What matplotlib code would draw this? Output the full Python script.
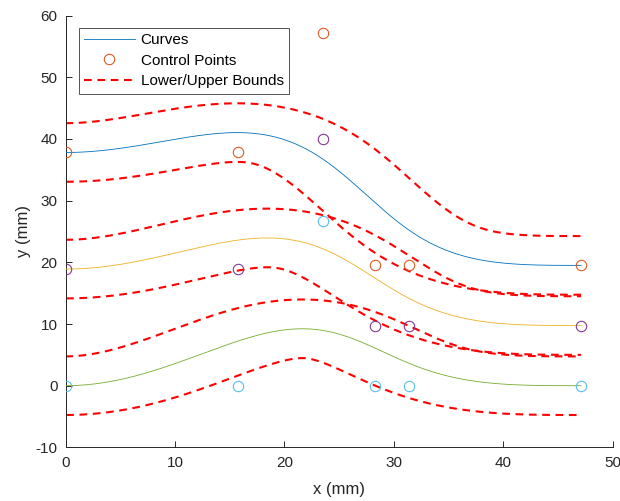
import numpy as np
import matplotlib.pyplot as plt
from matplotlib.bezier import BezierSegment

plt.rcParams['font.family'] = ['Liberation Sans', 'DejaVu Sans']
plt.rcParams['axes.unicode_minus'] = False

# control points (x shared by all three curves)
ctrl_x = [0, 15.71, 23.56, 28.27, 31.42, 47.12]
ctrl_y1 = [37.8, 37.8, 57.2, 19.5, 19.5, 19.5]
ctrl_y2 = [18.9, 18.9, 40.0, 9.75, 9.75, 9.75]
ctrl_y3 = [0, 0, 26.7, 0, 0, 0]
bound_offset = 4.75

curve_colors = ['#0072BD', '#EDB120', '#77AC30']
point_colors = ['#D95319', '#7E2F8E', '#4DBEEE']
dark = '#262626'

fig = plt.figure(figsize=(6.2, 5.01), dpi=100)
ax = fig.add_axes([0.106, 0.107, 0.882, 0.862])

t = np.linspace(0, 1, 400)
for i, cy in enumerate([ctrl_y1, ctrl_y2, ctrl_y3]):
    seg = BezierSegment(np.column_stack([ctrl_x, cy]))
    pts = seg(t)
    dx = np.gradient(pts[:, 0])
    dy = np.gradient(pts[:, 1])
    nrm = np.hypot(dx, dy)
    nx, ny = -dy / nrm, dx / nrm
    ax.plot(pts[:, 0], pts[:, 1], color=curve_colors[i], lw=0.6,
            label='Curves' if i == 0 else None, zorder=3)
    ax.plot(ctrl_x, cy, 'o', mfc='none', mec=point_colors[i], ms=7.5, mew=0.75,
            label='Control Points' if i == 0 else None, zorder=4)
    for s in (-1, 1):
        ax.plot(pts[:, 0] + s * bound_offset * nx, pts[:, 1] + s * bound_offset * ny,
                color='red', lw=1.5, dashes=(3.7, 2.7),
                label='Lower/Upper Bounds' if (i == 0 and s == -1) else None, zorder=2)

ax.set_xlim(0, 50)
ax.set_ylim(-10, 60)
ax.set_xticks(range(0, 51, 10))
ax.set_yticks(range(-10, 61, 10))
ax.spines['top'].set_visible(False)
ax.spines['right'].set_visible(False)
for sp in ('left', 'bottom'):
    ax.spines[sp].set_color(dark)
    ax.spines[sp].set_linewidth(0.7)
ax.tick_params(direction='in', length=4, width=0.7, color=dark, labelcolor=dark,
               labelsize=11, pad=6)
ax.set_xlabel('x (mm)', fontsize=12, color=dark, labelpad=9)
ax.set_ylabel('y (mm)', fontsize=12, color=dark, labelpad=3)

leg = ax.legend(loc='upper left', bbox_to_anchor=(0.024, 0.971), fontsize=11,
                frameon=True, fancybox=False, borderaxespad=0, handlelength=3.3,
                handletextpad=0.4, labelspacing=0.42, borderpad=0.35)
leg.get_frame().set_edgecolor(dark)
leg.get_frame().set_linewidth(0.7)
for txt in leg.get_texts():
    txt.set_color('black')

fig.savefig('out.png', dpi=100)
